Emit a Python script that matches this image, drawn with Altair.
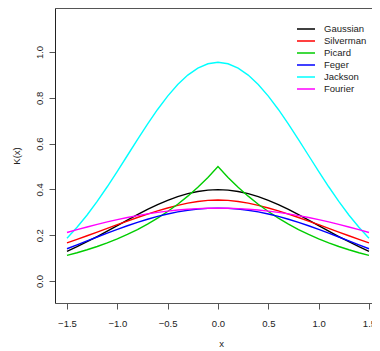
import altair as alt
import pandas as pd

xs = [-1.5, -1.4, -1.3, -1.2, -1.1, -1.0, -0.9, -0.8, -0.7, -0.6, -0.5, -0.4, -0.3, -0.2, -0.1,
      0.0, 0.1, 0.2, 0.3, 0.4, 0.5, 0.6, 0.7, 0.8, 0.9, 1.0, 1.1, 1.2, 1.3, 1.4, 1.5]

gaussian = [0.1295, 0.1497, 0.1714, 0.1942, 0.2179, 0.2420, 0.2661, 0.2897, 0.3123, 0.3332, 0.3521,
            0.3683, 0.3814, 0.3910, 0.3970, 0.3989, 0.3970, 0.3910, 0.3814, 0.3683, 0.3521, 0.3332,
            0.3123, 0.2897, 0.2661, 0.2420, 0.2179, 0.1942, 0.1714, 0.1497, 0.1295]
silverman = [0.1666, 0.1819, 0.1976, 0.2136, 0.2297, 0.2458, 0.2617, 0.2772, 0.2920, 0.3061, 0.3189,
             0.3302, 0.3398, 0.3471, 0.3519, 0.3536, 0.3519, 0.3471, 0.3398, 0.3302, 0.3189, 0.3061,
             0.2920, 0.2772, 0.2617, 0.2458, 0.2297, 0.2136, 0.1976, 0.1819, 0.1666]
picard = [0.1116, 0.1233, 0.1363, 0.1506, 0.1664, 0.1839, 0.2033, 0.2247, 0.2483, 0.2744, 0.3033,
          0.3352, 0.3704, 0.4094, 0.4524, 0.5000, 0.4524, 0.4094, 0.3704, 0.3352, 0.3033, 0.2744,
          0.2483, 0.2247, 0.2033, 0.1839, 0.1664, 0.1506, 0.1363, 0.1233, 0.1116]
feger = [0.1408, 0.1577, 0.1749, 0.1920, 0.2089, 0.2254, 0.2411, 0.2559, 0.2696, 0.2819, 0.2927,
         0.3017, 0.3089, 0.3141, 0.3172, 0.3183, 0.3172, 0.3141, 0.3089, 0.3017, 0.2927, 0.2819,
         0.2696, 0.2559, 0.2411, 0.2254, 0.2089, 0.1920, 0.1749, 0.1577, 0.1408]
jackson = [0.1868, 0.2344, 0.2882, 0.3475, 0.4115, 0.4788, 0.5480, 0.6174, 0.6850, 0.7490, 0.8072,
           0.8578, 0.8992, 0.9298, 0.9486, 0.9549, 0.9486, 0.9298, 0.8992, 0.8578, 0.8072, 0.7490,
           0.6850, 0.6174, 0.5480, 0.4788, 0.4115, 0.3475, 0.2882, 0.2344, 0.1868]
fourier = [0.2117, 0.2241, 0.2359, 0.2472, 0.2579, 0.2678, 0.2770, 0.2854, 0.2929, 0.2996, 0.3052,
           0.3099, 0.3136, 0.3162, 0.3178, 0.3183, 0.3178, 0.3162, 0.3136, 0.3099, 0.3052, 0.2996,
           0.2929, 0.2854, 0.2770, 0.2678, 0.2579, 0.2472, 0.2359, 0.2241, 0.2117]

names = ["Gaussian", "Silverman", "Picard", "Feger", "Jackson", "Fourier"]
colors = ["#000000", "#FF0000", "#00CD00", "#0000FF", "#00FFFF", "#FF00FF"]
series = [gaussian, silverman, picard, feger, jackson, fourier]
x_ticks = [-1.5, -1.0, -0.5, 0.0, 0.5, 1.0, 1.5]
y_ticks = [0.0, 0.2, 0.4, 0.6, 0.8, 1.0]

rows = []
for k, (nm, vals) in enumerate(zip(names, series)):
    for xv, yv in zip(xs, vals):
        rows.append({"x": xv, "y": yv, "kernel": nm, "order": k})
df = pd.DataFrame(rows)

FONT = "Liberation Sans"
FS = 9.5

x_scale = alt.Scale(domain=[-1.619, 1.53], nice=False, zero=False)
y_scale = alt.Scale(domain=[-0.0961, 1.1921], nice=False, zero=False)

y_enc = alt.Y("y:Q", scale=y_scale,
              axis=alt.Axis(values=y_ticks, format=".1f", title="K(x)", grid=False,
                            domainColor="#222222", tickColor="#555555", tickSize=6,
                            labelAngle=270, labelAlign="center", labelBaseline="alphabetic",
                            labelPadding=7, labelFont=FONT, labelFontSize=FS, labelColor="#222222",
                            titleFont=FONT, titleFontSize=FS, titleFontWeight="normal",
                            titleColor="#222222", titleAngle=270, titleAlign="center",
                            titleBaseline="alphabetic", titleX=-36, titleY=147.5))

lines = alt.Chart(df).mark_line(strokeWidth=1.4).encode(
    x=alt.X("x:Q", scale=x_scale,
            axis=alt.Axis(values=x_ticks, format=".1f", title="x", grid=False,
                          domainColor="#555555", tickColor="#555555", tickSize=6,
                          labelBaseline="top", labelPadding=9, labelFont=FONT,
                          labelFontSize=FS, labelColor="#222222", labelFlush=False,
                          titleFont=FONT, titleFontSize=FS, titleFontWeight="normal",
                          titleColor="#222222", titleBaseline="alphabetic",
                          titleX=166, titleY=43)),
    y=y_enc,
    color=alt.Color("kernel:N", sort=names,
                    scale=alt.Scale(domain=names, range=colors),
                    legend=alt.Legend(orient="none", legendX=241, legendY=15.5, title=None,
                                      symbolType="stroke", symbolSize=324, symbolStrokeWidth=1.5,
                                      labelFont=FONT, labelFontSize=FS, labelColor="#222222",
                                      labelOffset=8, rowPadding=0, clipHeight=11.2, padding=0)),
    order=alt.Order("order:Q"),
)

top_frame = alt.Chart(df).mark_line(opacity=0).encode(
    x=alt.X("x:Q", scale=x_scale,
            axis=alt.Axis(orient="top", labels=False, ticks=False, title=None, grid=False,
                          domainColor="#555555")),
    y=y_enc,
    detail="kernel:N",
)

chart = alt.layer(lines, top_frame).resolve_axis(x="independent").properties(
    width=317, height=295,
    autosize=alt.AutoSizeParams(type="none"),
    padding={"left": 47, "top": 0, "right": 0, "bottom": 46},
).configure_view(stroke=None).configure(background="white")

chart.save("out.html", embed_options={"renderer": "svg", "actions": False})
